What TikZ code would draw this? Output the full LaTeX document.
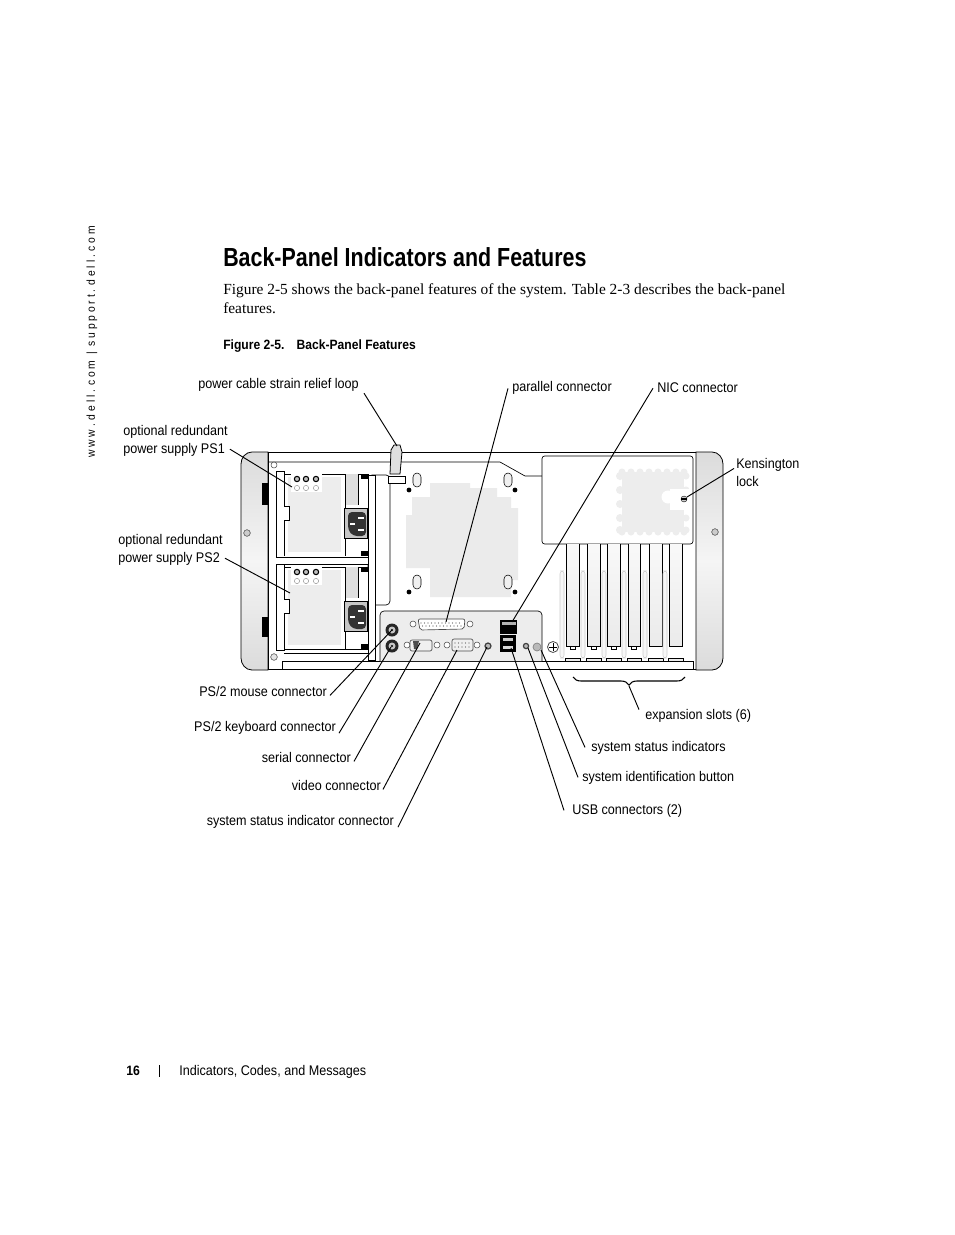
\documentclass[tikz,border=0pt]{standalone}
\usepackage{fontspec}
\setmainfont{Liberation Serif}
\newfontfamily\labelfont[FakeStretch=0.9]{Liberation Sans}
\newfontfamily\titlefont[FakeStretch=0.82]{Liberation Sans}
\usetikzlibrary{arrows.meta,positioning,decorations.pathreplacing}
\definecolor{panelgray}{gray}{0.93}
\definecolor{pagegray}{gray}{0.92}

\begin{document}
\begin{tikzpicture}[
    x=0.75pt, y=-0.75pt,
    lbl/.style={inner sep=1.5pt, font=\labelfont\fontsize{10.5}{12.8}\selectfont, align=left},
    leader/.style={line width=0.7pt},
    chassis/.style={draw, line width=0.6pt, fill=white},
    slotcard/.style={draw, line width=0.6pt, top color=gray!5, bottom color=gray!16},
    rail/.style={draw=gray!40, line width=0.4pt, fill=gray!6, rounded corners=2pt},
    screwhole/.style={circle, draw=black!70, fill=gray!40, line width=0.4pt, inner sep=0pt, minimum size=5pt},
    jackscrew/.style={circle, draw=black!70, fill=white, line width=0.4pt, inner sep=0pt, minimum size=4.5pt},
    ledlamp/.style={circle, draw=black, fill=gray!50, line width=0.8pt, inner sep=0pt, minimum size=4pt},
    dsub/.style={draw=black!70, line width=0.5pt, fill=gray!12, rounded corners=1.5pt, inner sep=0pt}
    ]
    \useasboundingbox (0,0) rectangle (954,1235);
    \fill[white] (0,0) rectangle (954,1235);

    % page text
    \node[rotate=90, anchor=west, inner sep=0pt, font=\labelfont\fontsize{8.6}{9}\selectfont] (sideline) at (92,458)
        {w w w . d e l l . c o m \ | \ s u p p o r t . d e l l . c o m};
    \node[anchor=base west, inner sep=0pt, font=\titlefont\bfseries\fontsize{19.6}{22}\selectfont] (heading) at (223,266)
        {Back-Panel Indicators and Features};
    \node[anchor=base west, inner sep=0pt, font=\fontsize{11.55}{14.4}\selectfont] (intro1) at (223,294)
        {Figure 2-5 shows the back-panel features of the system. Table 2-3 describes the back-panel};
    \node[anchor=base west, inner sep=0pt, font=\fontsize{11.55}{14.4}\selectfont] (intro2) at (223,313) {features.};
    \node[anchor=base west, inner sep=0pt, font=\labelfont\bfseries\fontsize{10.1}{12}\selectfont] (figcap) at (223,349)
        {Figure 2-5.\hspace{9pt}Back-Panel Features};
    \node[anchor=base west, inner sep=0pt, font=\labelfont\bfseries\fontsize{10.2}{12}\selectfont] (pageno) at (126,1075) {16};
    \node[anchor=base west, inner sep=0pt, font=\labelfont\fontsize{10.5}{12}\selectfont] (pagetitle) at (179,1075)
        {Indicators, Codes, and Messages};
    \draw[line width=0.5pt] (159,1065) -- (159,1077);

    % chassis
    \draw[chassis] (268,452) rectangle (696,669);
    \draw[line width=0.5pt] (268,462) -- (500,462) -- (525,476) -- (542,476);
    \draw[line width=0.5pt, fill=white] (282,661) rectangle (693,669);
    \draw[draw=black, line width=0.6pt, top color=gray!28, bottom color=gray!28, middle color=gray!8]
        (268,452) -- (252,452) to[out=180,in=90] (241,464) -- (241,658) to[out=-90,in=180] (252,670) -- (268,670) -- cycle;
    \draw[draw=black, line width=0.6pt, top color=gray!28, bottom color=gray!28, middle color=gray!8]
        (696,452) -- (712,452) to[out=0,in=90] (723,464) -- (723,658) to[out=-90,in=0] (712,670) -- (696,670) -- cycle;
    \fill[black] (262,483) rectangle (268,505);
    \fill[black] (262,617) rectangle (268,637);
    \node[screwhole] (earscrewl) at (247,533) {};
    \node[screwhole] (earscrewr) at (715,532) {};
    \node[jackscrew] (cornertop) at (274,465) {};

    % blanking plate behind the supplies
    \fill[pagegray] (430,483) -- (470,483) -- (470,488) -- (497,488) -- (497,497) -- (511,497) -- (511,508) -- (518,508)
        -- (518,580) -- (511,580) -- (511,597) -- (430,597) -- (430,568) -- (406,568) -- (406,515) -- (412,515) -- (412,497) -- (430,497) -- cycle;
    \foreach \sx/\hx in {417/409,508/515} {
        \foreach \sy/\hy in {480/490,582/592} {
            \draw[line width=0.4pt, fill=gray!12, rounded corners=3pt] (\sx-4,\sy-7) rectangle (\sx+4,\sy+7);
            \fill[black] (\hx,\hy) circle (2.4);
        }
    }

    % power supplies
    \draw[line width=0.5pt, fill=white, rounded corners=3pt] (368,475) -- (390,475) -- (390,605) -- (368,605) -- cycle;
    \foreach \py in {0,93} {
        \begin{scope}[yshift=\py*-0.75pt]
        \draw[line width=0.6pt, fill=white] (284,474) rectangle (368,556);
        \fill[panelgray] (288,477) rectangle (341,552);
        \fill[white] (291,474) rectangle (322,492);
        \fill[gray!25] (345,474) rectangle (358,505);
        \draw[line width=0.4pt] (345,474) -- (345,556) (358,474) -- (358,505);
        \fill[black] (361,475) rectangle (368,479);
        \fill[black] (361,551) rectangle (368,556);
        \draw[line width=0.7pt, fill=white] (276,471) rectangle (284,557);
        \draw[line width=0.6pt, fill=white] (284,506) -- (289,506) -- (289,520) -- (284,520);
        \draw[line width=0.5pt, fill=gray!45] (344,508) rectangle (367,538);
        \fill[black!80, rounded corners=3pt] (348,512) -- (366,512) -- (366,536) -- (353,536) -- (348,530) -- cycle;
        \fill[white] (358,517) rectangle (364,519);
        \fill[white] (358,529) rectangle (364,531);
        \fill[white] (350,523) rectangle (355,525);
        \foreach \lx in {297,306,316} {
            \node[ledlamp] at (\lx,479) {};
            \draw[gray, line width=0.3pt] (\lx,488) circle (2.6);
        }
        \end{scope}
    }
    \fill[white] (284,556) rectangle (368,564);
    \draw[line width=0.6pt] (284,557) -- (368,557) (284,564) -- (368,564);
    \draw[line width=0.5pt, fill=white] (368,475) rectangle (375,660);
    \draw[line width=0.5pt] (284,653) -- (368,653);
    \node[screwhole, fill=gray!20] (cornerbot) at (274,657) {};

    % strap
    \draw[line width=0.6pt, fill=gray!25] (390,474) -- (391,450) -- (394,445) -- (400,445) -- (402,452) -- (400,474) -- cycle;
    \draw[line width=0.6pt, fill=white] (388,476) rectangle (405,483);

    % top right panel
    \draw[line width=0.5pt, fill=white, rounded corners=2pt] (542,456) rectangle (693,544);
    \fill[panelgray] (622,472) rectangle (684,532);
    \foreach \bx in {622,631,640,649,658,667,676,684} {
        \fill[panelgray] (\bx,472) circle (3.5);
        \fill[panelgray] (\bx,532) circle (3.5);
    }
    \foreach \by in {476,490,504,518,530} {
        \fill[panelgray] (620,\by) circle (4);
        \fill[panelgray] (686,\by) circle (3.5);
    }
    \fill[white] (668,497) circle (6.5);
    \fill[white] (684,489) rectangle (692,508);
    \fill[white] (670,489) rectangle (690,510);
    \draw[fill=gray!40, line width=0.3pt] (684,499) circle (3);
    \fill[black] (681,498) rectangle (687,500);

    % expansion slots
    \foreach \lft/\rgt in {566/579,587/600,607/620,628/640,649/662,669/682} {
        \draw[slotcard] (\lft,544) -- (\lft,646) -- (\rgt,646) -- (\rgt,544);
        \draw[line width=0.3pt, fill=gray!15] (\lft-0.5,658) rectangle (\rgt+1,661);
    }
    \foreach \tabx in {573,594,614,634} {
        \draw[line width=0.3pt, fill=white] (\tabx-2.5,646) rectangle (\tabx+2.5,649);
    }
    \foreach \railx in {562,583,604,624,645,665} {
        \draw[rail] (\railx-2,571) rectangle (\railx+2,658);
    }

    % io panel
    \draw[line width=0.5pt, fill=panelgray, rounded corners=3pt] (380,661) -- (380,611) -- (542,611) -- (542,661);

    \foreach \py in {630,646} {
        \fill[black!85] (392,\py) circle (6.5);
        \fill[gray!45] (392,\py) circle (3.5);
        \fill[black] (392,\py) circle (1.2);
    }
    \node[jackscrew] (parleft) at (413,624) {};
    \node[jackscrew] (parright) at (470,624) {};
    \draw[dsub, fill=white] (418,619) -- (465,619) -- (464,629) -- (420,630) -- cycle;
    \foreach \cx in {421,424.5,...,462} {
        \fill[gray!70!black] (\cx,623) circle (0.7);
        \fill[gray!70!black] (\cx+1.5,626) circle (0.7);
    }
    \node[jackscrew] (serleft) at (407,645) {};
    \node[jackscrew] (serright) at (437,645) {};
    \draw[dsub] (410,640) rectangle (432,651);
    \fill[black!70] (413,641) -- (419,641) -- (417,649) -- (414,649) -- cycle;
    \node[jackscrew] (vidleft) at (447,645) {};
    \node[jackscrew] (vidright) at (477,645) {};
    \draw[dsub] (452,639) rectangle (473,651);
    \foreach \cx in {455,458.5,...,470} {
        \fill[gray!70!black] (\cx,643) circle (0.6);
        \fill[gray!70!black] (\cx,647) circle (0.6);
    }
    \draw[black!75, fill=gray!55, line width=0.9pt] (488,646) circle (3);
    \fill[black] (500,620) rectangle (517,634);
    \fill[gray!60] (501.5,622) rectangle (515.5,625);
    \fill[black] (500,635) rectangle (516,652);
    \fill[gray!40] (503,638) rectangle (513,641);
    \fill[gray!30] (503,646) rectangle (513,649);
    \draw[black!75, fill=gray!55, line width=0.9pt] (526,646) circle (2.6);
    \draw[black!50, fill=gray!55, line width=0.5pt] (537,647) circle (4);
    \draw[black!70, fill=white, line width=0.6pt] (553,647) circle (5.5);
    \draw[black, line width=0.7pt] (549,647) -- (557,647) (553,643) -- (553,651);

    % labels
    \node[lbl, anchor=base east] (cablelbl) at (361,388) {power cable strain relief loop};
    \node[lbl, anchor=base west] (ps1lbl) at (121,453) {optional redundant\\power supply PS1};
    \node[lbl, anchor=base west] (ps2lbl) at (116,562) {optional redundant\\power supply PS2};
    \node[lbl, anchor=base west] (parlbl) at (510,391) {parallel connector};
    \node[lbl, anchor=base west] (niclbl) at (655,392) {NIC connector};
    \node[lbl, anchor=base west] (kenlbl) at (734,486) {Kensington\\lock};
    \node[lbl, anchor=base east] (mouselbl) at (329,696) {PS/2 mouse connector};
    \node[lbl, anchor=base east] (kbdlbl) at (338,731) {PS/2 keyboard connector};
    \node[lbl, anchor=base east] (serlbl) at (353,762) {serial connector};
    \node[lbl, anchor=base east] (vidlbl) at (383,790) {video connector};
    \node[lbl, anchor=base east] (sysconlbl) at (396,825) {system status indicator connector};
    \node[lbl, anchor=base west] (slotslbl) at (643,719) {expansion slots (6)};
    \node[lbl, anchor=base west] (syslbl) at (589,751) {system status indicators};
    \node[lbl, anchor=base west] (idlbl) at (580,781) {system identification button};
    \node[lbl, anchor=base west] (usblbl) at (570,814) {USB connectors (2)};

    % leader ends
    \coordinate (strapend) at (397,446);
    \coordinate (ps1end) at (292,487);
    \coordinate (ps2end) at (290,593);
    \coordinate (parend) at (446,622);
    \coordinate (nicend) at (512,622);
    \coordinate (kenend) at (687,497);
    \coordinate (mouseend) at (392,630);
    \coordinate (kbdend) at (391,647);
    \coordinate (serend) at (420,643);
    \coordinate (vidend) at (457,650);
    \coordinate (sysconend) at (487,647);
    \coordinate (slotsend) at (629,686);
    \coordinate (sysend) at (541,650);
    \coordinate (idend) at (528,648);
    \coordinate (usbend) at (511,648);
    \coordinate (bracel) at (573,677);
    \coordinate (bracer) at (685,677);

    \draw[leader] (cablelbl.south east) ++(3,0) -- (strapend);
    \draw[leader] (ps1lbl.south east) ++(0,-9) -- (ps1end);
    \draw[leader] (ps2lbl.south east) ++(0,-9) -- (ps2end);
    \draw[leader] (parlbl.west) ++(-2,1) -- (parend);
    \draw[leader] (niclbl.west) ++(-2,1) -- (nicend);
    \draw[leader] (kenlbl.west) ++(0,-4) -- (kenend);
    \draw[leader] (mouselbl.south east) ++(1,-3) -- (mouseend);
    \draw[leader] (kbdlbl.south east) ++(1,-3) -- (kbdend);
    \draw[leader] (serlbl.south east) ++(1,-3) -- (serend);
    \draw[leader] (vidlbl.south east) ++(0,-3) -- (vidend);
    \draw[leader] (sysconlbl.south east) ++(2,-3) -- (sysconend);
    \draw[leader] (slotslbl.north west) ++(-4,3) -- (slotsend);
    \draw[leader] (syslbl.west) ++(-4,0) -- (sysend);
    \draw[leader] (idlbl.west) ++(-2,0) -- (idend);
    \draw[leader] (usblbl.west) ++(-6,0) -- (usbend);
    \draw[line width=0.8pt, decorate, decoration={brace, amplitude=6pt, mirror, aspect=0.5}] (bracel) -- (bracer);
  \end{tikzpicture}
\end{document}
